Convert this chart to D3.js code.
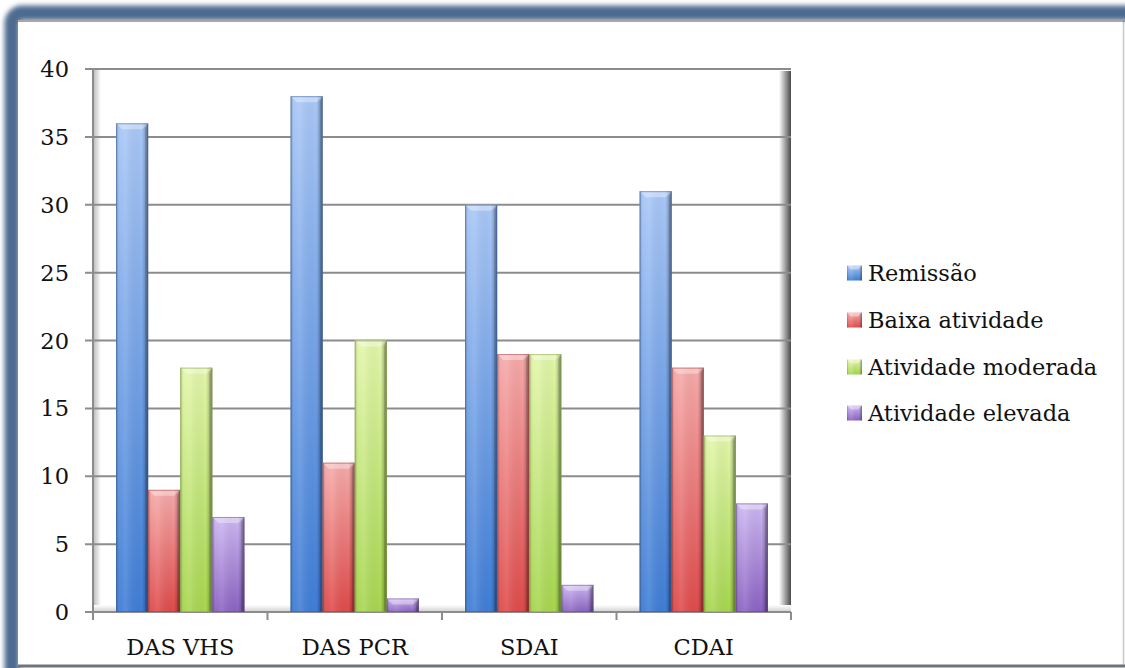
<!DOCTYPE html>
<html>
<head>
<meta charset="utf-8">
<script src="https://cdn.jsdelivr.net/npm/d3@7"></script>
<style>
  html, body { margin: 0; padding: 0; background: #fff; }
</style>
</head>
<body>
<div id="chart"></div>
<script>
// Chart data
const categories = ['DAS VHS', 'DAS PCR', 'SDAI', 'CDAI'];
const seriesNames = ['Remissão', 'Baixa atividade', 'Atividade moderada', 'Atividade elevada'];
const remissao = [36, 38, 30, 31];
const baixa = [9, 11, 19, 18];
const moderada = [18, 20, 19, 13];
const elevada = [7, 1, 2, 8];
const yTicks = [0, 5, 10, 15, 20, 25, 30, 35, 40];

const seriesValues = [remissao, baixa, moderada, elevada];
// base (bottom) and light (top) colours per series
const baseColors = ['#3f7dd6', '#df4a4a', '#a6d64e', '#8a62c2'];
const lightColors = ['#a9c7f6', '#f6aaaa', '#e2f6aa', '#cdb7f2'];

const FONT = '"DejaVu Serif", "Liberation Serif", serif';
const FS = 22.5;
const W = 1125, H = 668;
const plot = { left: 93, right: 791, top: 69, bottom: 612 };

const svg = d3.select('#chart').append('svg')
    .attr('width', W)
    .attr('height', H)
    .style('font-family', FONT);

const defs = svg.append('defs');

// blur for the frame
defs.append('filter').attr('id', 'blur')
    .attr('x', '-5%').attr('y', '-5%').attr('width', '110%').attr('height', '110%')
    .append('feGaussianBlur').attr('stdDeviation', 2.5);

// per-series vertical gradients
seriesNames.forEach((s, i) => {
    const g = defs.append('linearGradient').attr('id', 'bar' + i)
        .attr('x1', 0).attr('y1', 0).attr('x2', 0).attr('y2', 1);
    g.append('stop').attr('offset', '0%').attr('stop-color', lightColors[i]);
    g.append('stop').attr('offset', '45%').attr('stop-color', d3.interpolateRgb(lightColors[i], baseColors[i])(0.45));
    g.append('stop').attr('offset', '100%').attr('stop-color', baseColors[i]);
});

// horizontal edge shading for bars
const edge = defs.append('linearGradient').attr('id', 'edge')
    .attr('x1', 0).attr('y1', 0).attr('x2', 1).attr('y2', 0);
edge.append('stop').attr('offset', '0%').attr('stop-color', '#000').attr('stop-opacity', 0.25);
edge.append('stop').attr('offset', '12%').attr('stop-color', '#fff').attr('stop-opacity', 0.05);
edge.append('stop').attr('offset', '30%').attr('stop-color', '#fff').attr('stop-opacity', 0.12);
edge.append('stop').attr('offset', '80%').attr('stop-color', '#000').attr('stop-opacity', 0.0);
edge.append('stop').attr('offset', '100%').attr('stop-color', '#000').attr('stop-opacity', 0.35);

// wall shading gradients
const leftWall = defs.append('linearGradient').attr('id', 'leftWall')
    .attr('x1', 0).attr('y1', 0).attr('x2', 1).attr('y2', 0);
leftWall.append('stop').attr('offset', '0%').attr('stop-color', '#9a9a9a');
leftWall.append('stop').attr('offset', '100%').attr('stop-color', '#fff');
const rightWall = defs.append('linearGradient').attr('id', 'rightWall')
    .attr('x1', 0).attr('y1', 0).attr('x2', 1).attr('y2', 0);
rightWall.append('stop').attr('offset', '0%').attr('stop-color', '#fff');
rightWall.append('stop').attr('offset', '100%').attr('stop-color', '#4a4a4a');
const floorGrad = defs.append('linearGradient').attr('id', 'floorGrad')
    .attr('x1', 0).attr('y1', 0).attr('x2', 0).attr('y2', 1);
floorGrad.append('stop').attr('offset', '0%').attr('stop-color', '#fff');
floorGrad.append('stop').attr('offset', '100%').attr('stop-color', '#cfcfcf');

// Frame: thick blurred blue border on top/left, thin grey on right/bottom
svg.append('rect')
    .attr('x', 12).attr('y', 13)
    .attr('width', 1140).attr('height', 680)
    .attr('rx', 10)
    .attr('fill', 'none')
    .attr('stroke', '#4d6a90')
    .attr('stroke-width', 15)
    .attr('filter', 'url(#blur)');
svg.append('rect')
    .attr('x', 18).attr('y', 20)
    .attr('width', 1105).attr('height', 645)
    .attr('fill', '#fff');
svg.append('line')
    .attr('x1', 1123.5).attr('x2', 1123.5).attr('y1', 20).attr('y2', 665)
    .attr('stroke', '#c8c8c8').attr('stroke-width', 1.5);
svg.append('line')
    .attr('x1', 18).attr('x2', 1125).attr('y1', 666).attr('y2', 666)
    .attr('stroke', '#6e747c').attr('stroke-width', 3);
svg.append('line')
    .attr('x1', 18).attr('x2', 1125).attr('y1', 21).attr('y2', 21)
    .attr('stroke', '#8a8a8a').attr('stroke-width', 1.5);

// Scales
const y = d3.scaleLinear().domain([0, 40]).range([plot.bottom, plot.top]);
const x0 = d3.scaleBand().domain(categories).range([plot.left, plot.right]).padding(0);
const x1 = d3.scaleBand().domain(d3.range(seriesNames.length))
    .range([0, x0.bandwidth()]).paddingInner(0).paddingOuter(0.72);

// 3D box walls
svg.append('rect')
    .attr('x', plot.left).attr('y', plot.top)
    .attr('width', 8).attr('height', plot.bottom - plot.top)
    .attr('fill', 'url(#leftWall)').attr('opacity', 0.7);
svg.append('rect')
    .attr('x', plot.right - 12).attr('y', plot.top + 2)
    .attr('width', 12).attr('height', plot.bottom - plot.top - 2)
    .attr('fill', 'url(#rightWall)');
svg.append('rect')
    .attr('x', plot.left).attr('y', plot.bottom - 7)
    .attr('width', plot.right - plot.left).attr('height', 7)
    .attr('fill', 'url(#floorGrad)');

// Gridlines
svg.append('g').selectAll('line')
    .data(yTicks)
    .join('line')
    .attr('x1', plot.left - 8)
    .attr('x2', plot.right)
    .attr('y1', d => y(d))
    .attr('y2', d => y(d))
    .attr('stroke', '#8c8c8c')
    .attr('stroke-width', 2);

// Y axis line
svg.append('line')
    .attr('x1', plot.left).attr('x2', plot.left)
    .attr('y1', plot.top).attr('y2', plot.bottom + 8)
    .attr('stroke', '#8c8c8c').attr('stroke-width', 2);

// X tick marks at category boundaries
const boundaries = categories.map(c => x0(c)).concat([plot.right]);
svg.append('g').selectAll('line')
    .data(boundaries.slice(1))
    .join('line')
    .attr('x1', d => d).attr('x2', d => d)
    .attr('y1', plot.bottom).attr('y2', plot.bottom + 8)
    .attr('stroke', '#8c8c8c').attr('stroke-width', 2);

// Y tick labels
svg.append('g').selectAll('text')
    .data(yTicks)
    .join('text')
    .attr('x', 69)
    .attr('y', d => y(d))
    .attr('dy', '0.36em')
    .attr('text-anchor', 'end')
    .attr('font-family', FONT)
    .attr('font-size', FS)
    .attr('fill', '#111')
    .text(d => d);

// X category labels
svg.append('g').selectAll('text')
    .data(categories)
    .join('text')
    .attr('x', d => x0(d) + x0.bandwidth() / 2)
    .attr('y', 655)
    .attr('text-anchor', 'middle')
    .attr('font-family', FONT)
    .attr('font-size', FS)
    .attr('fill', '#111')
    .text(d => d);

// Bars
const groups = svg.append('g').selectAll('g')
    .data(categories)
    .join('g')
    .attr('transform', d => `translate(${x0(d)},0)`);

groups.each(function(cat, ci) {
    const g = d3.select(this);
    seriesNames.forEach((s, si) => {
        const v = seriesValues[si][ci];
        const bx = x1(si);
        const bw = x1.bandwidth();
        const by = y(v);
        const bh = y(0) - by;
        const bar = g.append('g');
        bar.append('rect')
            .attr('x', bx).attr('y', by)
            .attr('width', bw).attr('height', bh)
            .attr('fill', `url(#bar${si})`);
        bar.append('rect')
            .attr('x', bx).attr('y', by)
            .attr('width', bw).attr('height', bh)
            .attr('fill', 'url(#edge)');
        // top bevel
        const bev = Math.min(6, bh / 2);
        bar.append('path')
            .attr('d', `M${bx},${by} L${bx + bw},${by} L${bx + bw - bev},${by + bev} L${bx + bev},${by + bev} Z`)
            .attr('fill', '#fff').attr('opacity', 0.35);
        bar.append('path')
            .attr('d', `M${bx + bw},${by} L${bx + bw},${by + bh} L${bx + bw - 3},${by + bh} L${bx + bw - 3},${by + bev} Z`)
            .attr('fill', '#000').attr('opacity', 0.15);
        bar.append('rect')
            .attr('x', bx + 0.5).attr('y', by + 0.5)
            .attr('width', bw - 1).attr('height', bh - 1)
            .attr('fill', 'none')
            .attr('stroke', d3.color(baseColors[si]).darker(0.8))
            .attr('stroke-opacity', 0.5);
    });
});

// Legend
const legendY = [273, 320, 367, 413];
const legend = svg.append('g').selectAll('g')
    .data(seriesNames)
    .join('g')
    .attr('transform', (d, i) => `translate(847,${legendY[i]})`);

legend.append('rect')
    .attr('x', 0).attr('y', -7.5)
    .attr('width', 15).attr('height', 15)
    .attr('fill', (d, i) => `url(#bar${i})`);
legend.append('rect')
    .attr('x', 0).attr('y', -7.5)
    .attr('width', 15).attr('height', 15)
    .attr('fill', 'url(#edge)');
legend.append('path')
    .attr('d', 'M0,-7.5 L15,-7.5 L11,-3.5 L4,-3.5 Z')
    .attr('fill', '#fff').attr('opacity', 0.4);
legend.append('text')
    .attr('x', 21)
    .attr('y', 0)
    .attr('dy', '0.36em')
    .attr('font-family', FONT)
    .attr('font-size', FS)
    .attr('fill', '#111')
    .text(d => d);
</script>
</body>
</html>
